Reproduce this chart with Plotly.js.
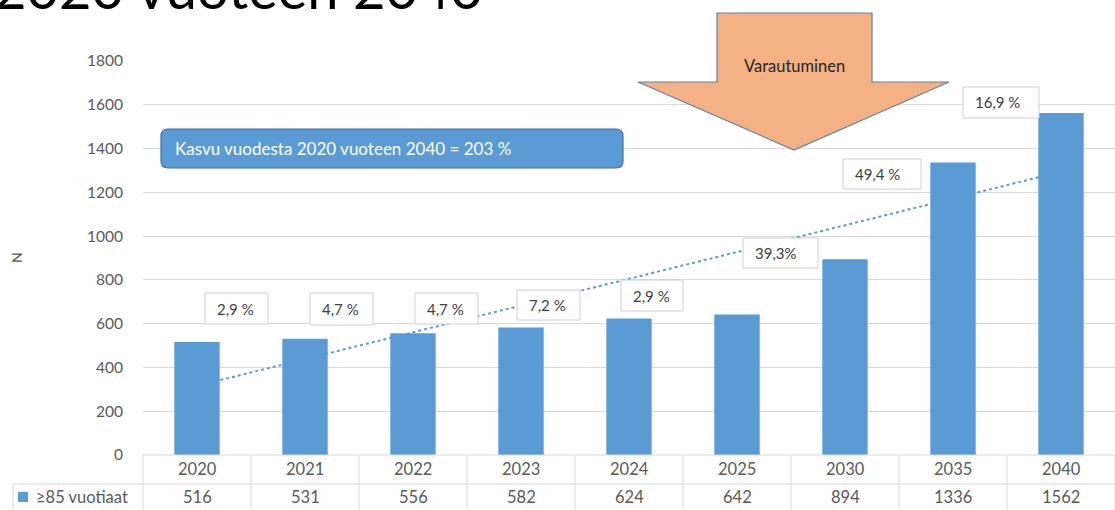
<!DOCTYPE html>
<html><head><meta charset="utf-8">
<script src="https://cdn.plot.ly/plotly-3.0.1.min.js"></script>
<style>html,body{margin:0;padding:0;background:#fff}#chart{width:1115px;height:510px}</style>
</head><body><div id="chart"></div>
<script>
// ---- data ----
const years = ['2020','2021','2022','2023','2024','2025','2030','2035','2040'];
const values = [516, 531, 556, 582, 624, 642, 894, 1336, 1562];
const seriesName = '≥85 vuotiaat';
const growthLabels = ['2,9 %','4,7 %','4,7 %','7,2 %','2,9 %','39,3%','49,4 %','16,9 %'];
const trendYears = ['2020','2040'];
const trendValues = [316, 1294];
const yTicks = [0,200,400,600,800,1000,1200,1400,1600,1800];
const titleText = '2020 vuoteen 2040';
const growthBoxText = 'Kasvu vuodesta 2020 vuoteen 2040 = 203 %';
const arrowText = 'Varautuminen';

// ---- layout geometry (pixels) ----
const W = 1115, H = 510, L = 143, T = 61, B = 455;
const px = x => (x - L) / (W - L);
const py = y => (B - y) / (B - T);
const FONT = 'Lato, "Open Sans", sans-serif';
const BLUE = '#5B9BD5';
const GRID = '#D9D9D9';
const TXT = '#595959';

const shapes = [];
const annotations = [];
function txt(o){ annotations.push(Object.assign({showarrow:false, xanchor:'center', yanchor:'middle'}, o)); }

// trend line (behind bars)
shapes.push({type:'line', xref:'x', yref:'y', layer:'between',
  x0: years.indexOf(trendYears[0]), x1: years.indexOf(trendYears[1]),
  y0: trendValues[0], y1: trendValues[1],
  line:{color:BLUE, width:2, dash:'dot'}});

// table grid
const colW = (W - L) / years.length;
shapes.push({type:'line', xref:'paper', yref:'paper', x0:px(L), x1:px(W), y0:py(455), y1:py(455), line:{color:GRID,width:1}});
shapes.push({type:'line', xref:'paper', yref:'paper', x0:px(13), x1:px(W), y0:py(484), y1:py(484), line:{color:GRID,width:1}});
shapes.push({type:'line', xref:'paper', yref:'paper', x0:px(13), x1:px(13), y0:py(484), y1:py(512), line:{color:GRID,width:1}});
for (let k = 0; k <= years.length; k++) {
  const xx = L + k*colW;
  shapes.push({type:'line', xref:'paper', yref:'paper', x0:px(xx), x1:px(xx), y0:py(455), y1:py(512), line:{color:GRID,width:1}});
}
years.forEach((yr, i) => {
  txt({xref:'x', yref:'paper', x:i, y:py(469), text:yr, font:{family:FONT,size:16.5,color:TXT}});
  txt({xref:'x', yref:'paper', x:i, y:py(497), text:String(values[i]), font:{family:FONT,size:16.5,color:TXT}});
});
// legend key
shapes.push({type:'rect', xref:'paper', yref:'paper', x0:px(18), x1:px(28), y0:py(492), y1:py(502), fillcolor:BLUE, line:{width:0}});
txt({xref:'paper', yref:'paper', x:px(34), y:py(497), xanchor:'left', text:seriesName, font:{family:FONT,size:16.5,color:TXT}});

// y-axis title
txt({xref:'paper', yref:'paper', x:px(16), y:py(258), text:'N', textangle:-90, font:{family:FONT,size:14,color:TXT}});

// growth % boxes [x0,y0,x1,y1] in px
const boxPos = [[205,293,268,324],[310,293,373,325],[415,293,478,324],[517,290,580,320],[621,280,683,311],[743,238,818,268],[843,159,921,189],[963,87,1039,118]];
growthLabels.forEach((lab, i) => {
  const b = boxPos[i];
  shapes.push({type:'rect', xref:'paper', yref:'paper', x0:px(b[0]), x1:px(b[2]), y0:py(b[1]), y1:py(b[3]), fillcolor:'#FFFFFF', line:{color:'#D0D0D0', width:1}, layer:'above'});
  txt({xref:'paper', yref:'paper', x:px(b[0]+10), y:py((b[1]+b[3])/2), xanchor:'left', text:lab, font:{family:FONT,size:15,color:'#404040'}});
});

// rounded blue box
(function(){
  const x0=161, x1=623, y0=129, y1=168, r=7;
  const P = (x,y) => px(x).toFixed(5)+','+py(y).toFixed(5);
  const path = 'M'+P(x0+r,y0)+' L'+P(x1-r,y0)+' Q'+P(x1,y0)+' '+P(x1,y0+r)+' L'+P(x1,y1-r)+' Q'+P(x1,y1)+' '+P(x1-r,y1)+
    ' L'+P(x0+r,y1)+' Q'+P(x0,y1)+' '+P(x0,y1-r)+' L'+P(x0,y0+r)+' Q'+P(x0,y0)+' '+P(x0+r,y0)+' Z';
  shapes.push({type:'path', xref:'paper', yref:'paper', path:path, fillcolor:BLUE, line:{color:'#41719C', width:1.2}, layer:'above'});
  txt({xref:'paper', yref:'paper', x:px(173), y:py(148), xanchor:'left', text:growthBoxText, font:{family:FONT,size:17,color:'#FFFFFF'}});
})();

// arrow
(function(){
  const pts = [[717,13],[872,13],[872,82],[949,82],[794,150],[638,82],[717,82]];
  const path = 'M' + pts.map(p => px(p[0]).toFixed(5)+','+py(p[1]).toFixed(5)).join(' L') + ' Z';
  shapes.push({type:'path', xref:'paper', yref:'paper', path:path, fillcolor:'#F4B183', line:{color:'#5F82AC', width:1.2}, layer:'above'});
  txt({xref:'paper', yref:'paper', x:px(794), y:py(66), text:arrowText, font:{family:FONT,size:16.5,color:'#262626'}});
})();

// cropped title (cut off by the top edge, as in the source)
txt({xref:'paper', yref:'paper', x:px(-8), y:py(23), xanchor:'left', yanchor:'bottom', text:titleText, font:{family:FONT,size:56,color:'#000000'}});

const traces = [{
  type:'bar', x:years, y:values, name:seriesName, marker:{color:BLUE}, hoverinfo:'x+y'
}];

const layout = {
  width:W, height:H, margin:{l:L, r:0, t:T, b:H-B, pad:0},
  paper_bgcolor:'#FFFFFF', plot_bgcolor:'#FFFFFF',
  showlegend:false, bargap:0.58,
  xaxis:{type:'category', range:[-0.5, years.length-0.5], showticklabels:false, showgrid:false, zeroline:false, showline:false, fixedrange:true},
  yaxis:{range:[0,1800], tickvals:yTicks, showgrid:true, gridcolor:GRID, gridwidth:1, zeroline:false, showline:false,
    ticks:'', ticklabelstandoff:19, tickfont:{family:FONT,size:15.5,color:TXT}, fixedrange:true},
  shapes:shapes, annotations:annotations
};
Plotly.newPlot('chart', traces, layout, {displayModeBar:false, staticPlot:true});
</script></body></html>
